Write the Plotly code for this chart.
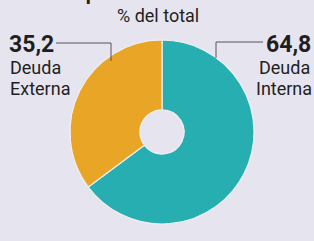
import plotly.graph_objects as go

labels = ["Deuda Interna", "Deuda Externa"]
values = [64.8, 35.2]
value_labels = ["64,8", "35,2"]
colors = ["#27AEB0", "#E8A526"]

W, H = 314, 241
BG = "#E6E5EF"
FONT = "Liberation Sans Narrow, Roboto, sans-serif"

def px(x):
    return x / W

def py(y):
    return 1 - y / H

fig = go.Figure(go.Pie(
    labels=labels, values=values, sort=False, direction="clockwise", rotation=0,
    hole=0.24, marker=dict(colors=colors, line=dict(color="#F2F0F4", width=1.2)),
    textinfo="none", hoverinfo="label+value", showlegend=False,
    domain=dict(x=[px(70), px(254)], y=[py(224), py(40)]),
))

shapes = []
line = dict(color="#555555", width=1)
# left leader
shapes.append(dict(type="line", xref="paper", yref="paper", x0=px(56), y0=py(43), x1=px(111), y1=py(43), line=line))
shapes.append(dict(type="line", xref="paper", yref="paper", x0=px(111), y0=py(43), x1=px(111), y1=py(61), line=line))
# right leader
shapes.append(dict(type="line", xref="paper", yref="paper", x0=px(216), y0=py(42), x1=px(263), y1=py(42), line=line))
shapes.append(dict(type="line", xref="paper", yref="paper", x0=px(216), y0=py(42), x1=px(216), y1=py(58), line=line))

ann = []
def text(t, x, y, size, anchor="left", bold=False, color="#1f1f1f"):
    ann.append(dict(text=("<b>%s</b>" % t) if bold else t, x=px(x), y=py(y), xref="paper", yref="paper",
                    xanchor=anchor, yanchor="middle", showarrow=False,
                    font=dict(family=FONT, size=size, color=color)))

text("Composición de la deuda", 157, -7, 20, anchor="center", bold=True)
text("% del total", 158, 15, 18, anchor="center")
text(value_labels[1], 7, 44, 23, bold=True)
text("Deuda", 8, 67, 18)
text("Externa", 8, 88, 18)
text(value_labels[0], 313, 44, 23, anchor="right", bold=True)
text("Deuda", 312, 67, 18, anchor="right")
text("Interna", 314, 88, 18, anchor="right")

fig.update_layout(width=W, height=H, margin=dict(l=0, r=0, t=0, b=0),
                  paper_bgcolor=BG, plot_bgcolor=BG, shapes=shapes, annotations=ann)
fig.write_html("out.html", config={"displayModeBar": False},
               post_script="document.body.style.margin='0';document.body.style.overflow='hidden';")
